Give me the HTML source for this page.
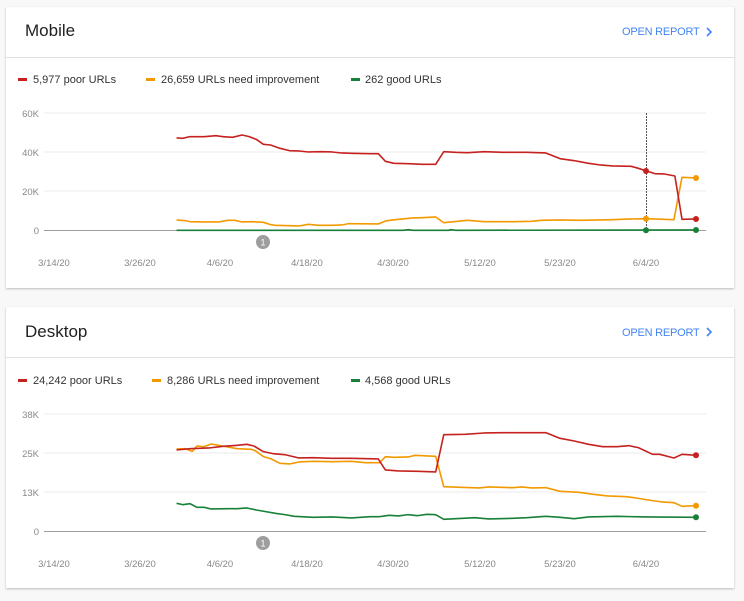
<!DOCTYPE html>
<html><head><meta charset="utf-8"><style>
body{margin:0;width:744px;height:596px;background:#f8f8f8;overflow:hidden;font-family:"Liberation Sans",sans-serif}
</style></head><body>
<svg width="744" height="596" viewBox="0 0 744 596" xmlns="http://www.w3.org/2000/svg" font-family="Liberation Sans, sans-serif">
<defs><filter id="sh" x="-5%" y="-5%" width="110%" height="115%"><feDropShadow dx="0" dy="1" stdDeviation="1" flood-color="#000" flood-opacity="0.25"/></filter></defs>
<rect x="6" y="7" width="728" height="281" fill="#fff" filter="url(#sh)"/>
<rect x="6" y="307" width="728" height="281" fill="#fff" filter="url(#sh)"/>
<line x1="6" y1="57.5" x2="734" y2="57.5" stroke="#e0e0e0"/>
<line x1="6" y1="357.5" x2="734" y2="357.5" stroke="#e0e0e0"/>
<text x="25" y="36" font-size="17" fill="#212121">Mobile</text>
<text x="25" y="337" font-size="17" fill="#212121">Desktop</text>
<text x="622" y="35" font-size="11" fill="#4285f4" letter-spacing="0.3" textLength="78">OPEN REPORT</text>
<text x="622" y="336" font-size="11" fill="#4285f4" letter-spacing="0.3" textLength="78">OPEN REPORT</text>
<path d="M707 28l4 4-4 4M707 328l4 4-4 4" fill="none" stroke="#4285f4" stroke-width="1.6"/>
<g font-size="11" fill="#333">
<rect x="18" y="78" width="9" height="3" fill="#c5221f"/><text x="33" y="83">5,977 poor URLs</text>
<rect x="146" y="78" width="9" height="3" fill="#f29900"/><text x="161" y="83">26,659 URLs need improvement</text>
<rect x="351" y="78" width="9" height="3" fill="#188038"/><text x="365" y="83">262 good URLs</text>
<rect x="18" y="379" width="9" height="3" fill="#c5221f"/><text x="33" y="384">24,242 poor URLs</text>
<rect x="152" y="379" width="9" height="3" fill="#f29900"/><text x="167" y="384">8,286 URLs need improvement</text>
<rect x="351" y="379" width="9" height="3" fill="#188038"/><text x="365" y="384">4,568 good URLs</text>
</g>
<g stroke="#ebebeb"><line x1="44" y1="113" x2="706" y2="113"/><line x1="44" y1="152" x2="706" y2="152"/><line x1="44" y1="191" x2="706" y2="191"/>
<line x1="44" y1="414" x2="706" y2="414"/><line x1="44" y1="453" x2="706" y2="453"/><line x1="44" y1="492" x2="706" y2="492"/></g>
<g stroke="#9e9e9e"><line x1="44" y1="230.5" x2="706" y2="230.5"/><line x1="44" y1="531.5" x2="706" y2="531.5"/></g>
<g font-size="9.5" fill="#888" text-anchor="end">
<text x="39" y="117">60K</text><text x="39" y="156">40K</text><text x="39" y="195">20K</text><text x="39" y="234">0</text>
<text x="39" y="418">38K</text><text x="39" y="457">25K</text><text x="39" y="496">13K</text><text x="39" y="535">0</text></g>
<g font-size="9.5" fill="#888" text-anchor="middle">
<text x="54" y="266">3/14/20</text><text x="140" y="266">3/26/20</text><text x="220" y="266">4/6/20</text><text x="307" y="266">4/18/20</text><text x="393" y="266">4/30/20</text><text x="480" y="266">5/12/20</text><text x="560" y="266">5/23/20</text><text x="646" y="266">6/4/20</text>
<text x="54" y="567">3/14/20</text><text x="140" y="567">3/26/20</text><text x="220" y="567">4/6/20</text><text x="307" y="567">4/18/20</text><text x="393" y="567">4/30/20</text><text x="480" y="567">5/12/20</text><text x="560" y="567">5/23/20</text><text x="646" y="567">6/4/20</text></g>
<circle cx="263" cy="242" r="7" fill="#9e9e9e"/><text x="263" y="245.5" font-size="9" fill="#fff" text-anchor="middle">1</text>
<circle cx="263" cy="543" r="7" fill="#9e9e9e"/><text x="263" y="546.5" font-size="9" fill="#fff" text-anchor="middle">1</text>
<line x1="646.5" y1="113" x2="646.5" y2="230" stroke="#555" stroke-dasharray="2,1"/>
<g transform="scale(0.4746,0.3333)" fill="none" stroke-width="1.6" stroke-linejoin="round">
<polyline vector-effect="non-scaling-stroke" stroke="#188038" points="372,691 850,691 860,689 870,691 945,691 950,689 960,691 1467,690"/>
<polyline vector-effect="non-scaling-stroke" stroke="#f29900" points="372,660 390,662 400,665 430,666 460,666 480,661 495,661 510,666 530,665 555,667 570,674 580,676 610,677 630,678 650,673 670,676 700,676 720,675 735,671 797,672 815,662 840,658 870,654 890,653 918,651 935,668 985,661 1020,665 1080,665 1120,664 1140,661 1180,660 1220,661 1290,659 1330,657 1362,656 1420,659 1437,532 1467,534"/>
<polyline vector-effect="non-scaling-stroke" stroke="#c5221f" points="372,414 385,415 400,410 430,410 455,407 470,410 490,412 510,405 525,410 540,418 555,433 570,435 590,445 610,452 630,453 650,456 675,455 700,456 720,459 740,460 780,461 797,461 812,484 830,490 860,491 890,493 918,493 935,455 960,457 985,458 1020,455 1060,457 1110,457 1150,459 1180,476 1210,482 1240,490 1265,495 1290,498 1330,499 1345,505 1362,513 1380,521 1400,522 1422,528 1437,658 1467,657"/>
</g>
<g transform="translate(0,300) scale(0.4746,0.3333)" fill="none" stroke-width="1.6" stroke-linejoin="round">
<polyline vector-effect="non-scaling-stroke" stroke="#188038" points="372,610 385,614 400,611 415,622 430,622 445,627 480,626 500,626 520,624 540,630 560,635 580,640 600,644 620,649 660,652 700,651 740,654 780,650 800,650 820,646 840,648 860,644 880,647 900,643 918,644 935,658 960,656 1000,653 1030,657 1080,655 1110,653 1150,649 1180,652 1210,656 1240,651 1300,649 1360,651 1467,652"/>
<polyline vector-effect="non-scaling-stroke" stroke="#f29900" points="372,447 390,446 405,454 415,438 430,440 445,432 460,436 480,441 500,446 530,448 540,454 555,470 570,476 590,490 610,492 630,486 660,484 700,485 740,484 770,488 800,488 812,470 830,472 860,471 875,466 900,468 918,469 935,560 970,562 1010,564 1030,561 1080,563 1100,561 1120,564 1150,563 1180,574 1220,577 1250,583 1280,588 1320,590 1340,594 1375,602 1395,606 1420,608 1437,619 1467,617"/>
<polyline vector-effect="non-scaling-stroke" stroke="#c5221f" points="372,450 400,446 440,444 470,439 500,436 520,433 535,438 555,455 575,461 600,464 630,474 660,473 700,475 740,475 797,477 812,510 840,513 880,514 918,516 935,404 980,403 1020,399 1060,398 1100,398 1150,398 1180,415 1210,423 1240,433 1270,440 1300,440 1325,437 1345,443 1375,463 1390,463 1420,474 1437,463 1467,466"/>
</g>
<circle cx="646" cy="171" r="3" fill="#c5221f"/><circle cx="646" cy="218.7" r="3" fill="#f29900"/><circle cx="646" cy="230.3" r="3" fill="#188038"/>
<circle cx="696" cy="219" r="3" fill="#c5221f"/><circle cx="696" cy="178" r="3" fill="#f29900"/><circle cx="696" cy="230" r="3" fill="#188038"/>
<circle cx="696" cy="455.3" r="3" fill="#c5221f"/><circle cx="696" cy="505.7" r="3" fill="#f29900"/><circle cx="696" cy="517.3" r="3" fill="#188038"/>
</svg>
</body></html>
